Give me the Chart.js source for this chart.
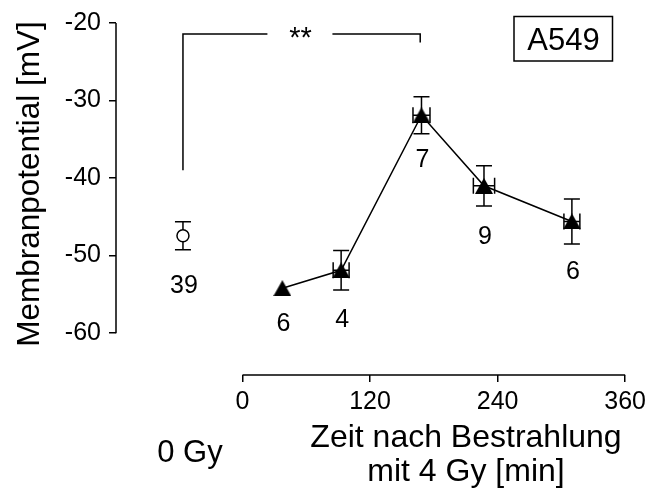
<!DOCTYPE html>
<html>
<head>
<meta charset="utf-8">
<script src="https://cdn.jsdelivr.net/npm/chart.js@4"></script>
<style>
  html, body { margin: 0; padding: 0; background: #fff; }
  canvas { display: block; }
</style>
</head>
<body>
<canvas id="chart" width="651" height="491"></canvas>
<script>
// control (0 Gy), drawn left of the time axis
const ctrlX = [-56];
const ctrlY = [-47.45];
const ctrlErr = [1.8];
const ctrlN = ['39'];

// after 4 Gy
const timeX = [37.5, 92.8, 168.4, 227.2, 309.9];
const timeY = [-54.2, -51.9, -31.9, -41.0, -45.6];
const timeYErr = [0, 2.55, 2.4, 2.6, 2.9];
const timeXErr = [0, 7.5, 8, 10, 7.5];
const timeN = ['6', '4', '7', '9', '6'];

const xTicks = [0, 120, 240, 360];
const yTicks = [-60, -50, -40, -30, -20];

// significance bracket (data units)
const bracketFrom = -56;
const bracketTo = 167.2;
const bracketLevel = -21.43;
const bracketLeftEnd = -39;
const bracketRightEnd = -22.5;
const starsAt = 54.5;

const FONT = "'Liberation Sans', Arial, sans-serif";

// filled triangle marker, centred on its bounding box
const tri = document.createElement('canvas');
tri.width = 18;
tri.height = 16;
const tctx = tri.getContext('2d');
tctx.fillStyle = '#000';
tctx.beginPath();
tctx.moveTo(9, 0);
tctx.lineTo(18, 16);
tctx.lineTo(0, 16);
tctx.closePath();
tctx.fill();

const extras = {
    id: 'extras',
    beforeDatasetsDraw(chart) {
        const { ctx, scales: { x, y } } = chart;
        const cap = 8;
        ctx.save();
        ctx.strokeStyle = '#000';
        ctx.lineWidth = 1.5;

        const errBars = (xs, ys, ye, xe) => {
            xs.forEach((v, i) => {
                const px = x.getPixelForValue(v);
                const py = y.getPixelForValue(ys[i]);
                if (ye[i] > 0) {
                    const t = y.getPixelForValue(ys[i] + ye[i]);
                    const b = y.getPixelForValue(ys[i] - ye[i]);
                    ctx.beginPath();
                    ctx.moveTo(px, t); ctx.lineTo(px, b);
                    ctx.moveTo(px - cap, t); ctx.lineTo(px + cap, t);
                    ctx.moveTo(px - cap, b); ctx.lineTo(px + cap, b);
                    ctx.stroke();
                }
                if (xe && xe[i] > 0) {
                    const l = x.getPixelForValue(v - xe[i]);
                    const r = x.getPixelForValue(v + xe[i]);
                    ctx.beginPath();
                    ctx.moveTo(l, py); ctx.lineTo(r, py);
                    ctx.moveTo(l, py - cap); ctx.lineTo(l, py + cap);
                    ctx.moveTo(r, py - cap); ctx.lineTo(r, py + cap);
                    ctx.stroke();
                }
            });
        };
        errBars(ctrlX, ctrlY, ctrlErr, null);
        errBars(timeX, timeY, timeYErr, timeXErr);
        ctx.restore();
    },
    afterDraw(chart) {
        const { ctx, chartArea, scales: { x, y } } = chart;
        ctx.save();
        ctx.strokeStyle = '#000';
        ctx.fillStyle = '#000';
        ctx.lineWidth = 1.5;

        // axis lines, only over the labelled range
        ctx.beginPath();
        ctx.moveTo(chartArea.left, y.getPixelForValue(-20));
        ctx.lineTo(chartArea.left, y.getPixelForValue(-60));
        ctx.moveTo(x.getPixelForValue(0), chartArea.bottom);
        ctx.lineTo(x.getPixelForValue(360), chartArea.bottom);
        ctx.stroke();

        // ** bracket
        const by = y.getPixelForValue(bracketLevel);
        const bl = x.getPixelForValue(bracketFrom);
        const br = x.getPixelForValue(bracketTo);
        const bs = x.getPixelForValue(starsAt);
        ctx.beginPath();
        ctx.moveTo(bl, y.getPixelForValue(bracketLeftEnd));
        ctx.lineTo(bl, by);
        ctx.lineTo(bs - 33, by);
        ctx.moveTo(bs + 32, by);
        ctx.lineTo(br, by);
        ctx.lineTo(br, y.getPixelForValue(bracketRightEnd));
        ctx.stroke();
        ctx.font = '29px ' + FONT;
        ctx.textAlign = 'center';
        ctx.textBaseline = 'middle';
        ctx.fillText('**', bs, by + 5);

        // n labels
        ctx.font = '25px ' + FONT;
        ctx.textBaseline = 'alphabetic';
        const nDy = [57, 43, 57, 52, 58, 58];
        const allX = ctrlX.concat(timeX);
        const allY = ctrlY.concat(timeY);
        const allN = ctrlN.concat(timeN);
        allN.forEach((t, i) => {
            ctx.fillText(t, x.getPixelForValue(allX[i]) + 1, y.getPixelForValue(allY[i]) + nDy[i]);
        });

        // cell line box
        ctx.strokeRect(514, 16.5, 98.5, 44.5);
        ctx.font = '31px ' + FONT;
        ctx.fillText('A549', 563.5, 50);

        // axis titles
        ctx.font = '32px ' + FONT;
        ctx.fillText('Zeit nach Bestrahlung', 466, 446.5);
        ctx.fillText('mit 4 Gy [min]', 466, 480.5);
        ctx.font = '31px ' + FONT;
        ctx.fillText('0 Gy', 190, 462);

        ctx.font = '31.5px ' + FONT;
        ctx.translate(39, 184);
        ctx.rotate(-Math.PI / 2);
        ctx.fillText('Membranpotential [mV]', 0, 0);
        ctx.restore();
    }
};

new Chart(document.getElementById('chart'), {
    type: 'line',
    data: {
        datasets: [{
            data: ctrlX.map((v, i) => ({ x: v, y: ctrlY[i] })),
            showLine: false,
            pointStyle: 'circle',
            pointRadius: 6,
            pointBackgroundColor: '#fff',
            pointBorderColor: '#000',
            pointBorderWidth: 1.5
        }, {
            data: timeX.map((v, i) => ({ x: v, y: timeY[i] })),
            borderColor: '#000',
            borderWidth: 1.5,
            tension: 0,
            pointStyle: tri,
            pointRadius: 9
        }]
    },
    options: {
        responsive: false,
        animation: false,
        layout: { padding: { top: 19, right: 24, left: 0, bottom: 0 } },
        plugins: { legend: { display: false }, tooltip: { enabled: false } },
        scales: {
            x: {
                type: 'linear',
                min: -119,
                max: 360,
                afterBuildTicks: s => { s.ticks = xTicks.map(v => ({ value: v })); },
                afterFit: s => { s.height = 116; },
                grid: { drawOnChartArea: false, drawTicks: true, tickLength: 7, color: '#000', lineWidth: 1.5 },
                border: { display: false },
                ticks: { autoSkip: false, maxRotation: 0, padding: 5, color: '#000', font: { family: FONT, size: 25 } }
            },
            y: {
                min: -65.4,
                max: -20,
                afterBuildTicks: s => { s.ticks = yTicks.map(v => ({ value: v })); },
                afterFit: s => { s.width = 116; },
                grid: { drawOnChartArea: false, drawTicks: true, tickLength: 7, color: '#000', lineWidth: 1.5 },
                border: { display: false },
                ticks: { padding: 8, color: '#000', font: { family: FONT, size: 25 } }
            }
        }
    },
    plugins: [extras]
});
</script>
</body>
</html>
